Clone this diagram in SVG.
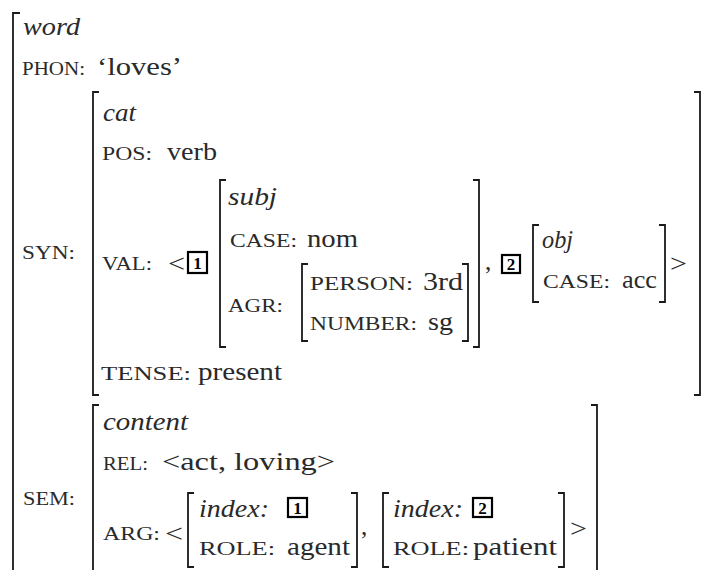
<svg xmlns="http://www.w3.org/2000/svg" width="702" height="570" viewBox="0 0 702 570">
<style>
text{font-family:'Liberation Serif','Times New Roman',serif}
.t{font-size:25px;fill:#2a2a2a}
.i{font-style:italic}
.sc{font-size:18.5px}
.br{fill:none;stroke:#1a1a1a;stroke-width:1.8}
.box{fill:none;stroke:#000;stroke-width:2.2}
.n{font-size:17px;font-weight:bold;fill:#000;text-anchor:middle}
</style>
<rect width="702" height="570" fill="#fff"/>
<g id="word">
<path class="br" d="M20,13H13V575"/>
<text class="t i" x="23" y="35" textLength="57" lengthAdjust="spacingAndGlyphs">word</text>
<text class="t sc" x="22" y="75" textLength="63" lengthAdjust="spacingAndGlyphs">PHON:</text>
<text class="t" x="97" y="75" textLength="85" lengthAdjust="spacingAndGlyphs">‘loves’</text>
<text class="t sc" x="22" y="259" textLength="53" lengthAdjust="spacingAndGlyphs">SYN:</text>
<text class="t sc" x="23" y="505" textLength="52" lengthAdjust="spacingAndGlyphs">SEM:</text>
</g>
<g id="syn">
<path class="br" d="M99,92H93V395H99"/>
<path class="br" d="M694,92H700V395H694"/>
<text class="t i" x="103" y="121" textLength="33" lengthAdjust="spacingAndGlyphs">cat</text>
<text class="t sc" x="102" y="160" textLength="50" lengthAdjust="spacingAndGlyphs">POS:</text>
<text class="t" x="167" y="160" textLength="50" lengthAdjust="spacingAndGlyphs">verb</text>
<text class="t sc" x="102" y="270" textLength="50" lengthAdjust="spacingAndGlyphs">VAL:</text>
<text class="t" x="168" y="272" textLength="17" lengthAdjust="spacingAndGlyphs">&lt;</text>
<rect class="box" x="188" y="252" width="19" height="21"/>
<text class="n" x="197.5" y="269">1</text>
<text class="t" x="485" y="270">,</text>
<rect class="box" x="502" y="255" width="18" height="18"/>
<text class="n" x="511" y="270">2</text>
<text class="t" x="670" y="272" textLength="17" lengthAdjust="spacingAndGlyphs">&gt;</text>
<text class="t sc" x="101" y="380" textLength="90" lengthAdjust="spacingAndGlyphs">TENSE:</text>
<text class="t" x="198" y="380" textLength="84" lengthAdjust="spacingAndGlyphs">present</text>
</g>
<g id="subj">
<path class="br" d="M226,180H220V347H226"/>
<path class="br" d="M473,180H479V347H473"/>
<text class="t i" x="228" y="205" textLength="49" lengthAdjust="spacingAndGlyphs">subj</text>
<text class="t sc" x="230" y="247" textLength="67" lengthAdjust="spacingAndGlyphs">CASE:</text>
<text class="t" x="307" y="247" textLength="51" lengthAdjust="spacingAndGlyphs">nom</text>
<text class="t sc" x="228" y="312" textLength="55" lengthAdjust="spacingAndGlyphs">AGR:</text>
</g>
<g id="agr">
<path class="br" d="M308,264H302V341H308"/>
<path class="br" d="M462,264H468V341H462"/>
<text class="t sc" x="310" y="290" textLength="103" lengthAdjust="spacingAndGlyphs">PERSON:</text>
<text class="t" x="423" y="290" textLength="40" lengthAdjust="spacingAndGlyphs">3rd</text>
<text class="t sc" x="310" y="330" textLength="107" lengthAdjust="spacingAndGlyphs">NUMBER:</text>
<text class="t" x="428" y="330" textLength="25" lengthAdjust="spacingAndGlyphs">sg</text>
</g>
<g id="obj">
<path class="br" d="M539,225H533V302H539"/>
<path class="br" d="M659,225H665V302H659"/>
<text class="t i" x="542" y="248" textLength="31" lengthAdjust="spacingAndGlyphs">obj</text>
<text class="t sc" x="543" y="288" textLength="67" lengthAdjust="spacingAndGlyphs">CASE:</text>
<text class="t" x="622" y="288" textLength="35" lengthAdjust="spacingAndGlyphs">acc</text>
</g>
<g id="sem">
<path class="br" d="M99,405H93V575"/>
<path class="br" d="M591,405H597V575"/>
<text class="t i" x="103" y="430" textLength="85" lengthAdjust="spacingAndGlyphs">content</text>
<text class="t sc" x="103" y="470" textLength="45" lengthAdjust="spacingAndGlyphs">REL:</text>
<text class="t" x="162" y="470" textLength="173" lengthAdjust="spacingAndGlyphs">&lt;act, loving&gt;</text>
<text class="t sc" x="103" y="540" textLength="57" lengthAdjust="spacingAndGlyphs">ARG:</text>
<text class="t" x="165" y="542" textLength="18" lengthAdjust="spacingAndGlyphs">&lt;</text>
<text class="t" x="361" y="535">,</text>
<text class="t" x="570" y="537" textLength="17" lengthAdjust="spacingAndGlyphs">&gt;</text>
</g>
<g id="arg1">
<path class="br" d="M194,493H188V567H194"/>
<path class="br" d="M351,493H357V567H351"/>
<text class="t i" x="199" y="517" textLength="70" lengthAdjust="spacingAndGlyphs">index:</text>
<rect class="box" x="288" y="498" width="19" height="19"/>
<text class="n" x="297.5" y="514">1</text>
<text class="t sc" x="199" y="555" textLength="76" lengthAdjust="spacingAndGlyphs">ROLE:</text>
<text class="t" x="287" y="555" textLength="63" lengthAdjust="spacingAndGlyphs">agent</text>
</g>
<g id="arg2">
<path class="br" d="M389,493H383V567H389"/>
<path class="br" d="M558,493H564V567H558"/>
<text class="t i" x="393" y="517" textLength="70" lengthAdjust="spacingAndGlyphs">index:</text>
<rect class="box" x="473" y="498" width="19" height="19"/>
<text class="n" x="482.5" y="514">2</text>
<text class="t sc" x="393" y="555" textLength="76" lengthAdjust="spacingAndGlyphs">ROLE:</text>
<text class="t" x="473" y="555" textLength="84" lengthAdjust="spacingAndGlyphs">patient</text>
</g>
</svg>
